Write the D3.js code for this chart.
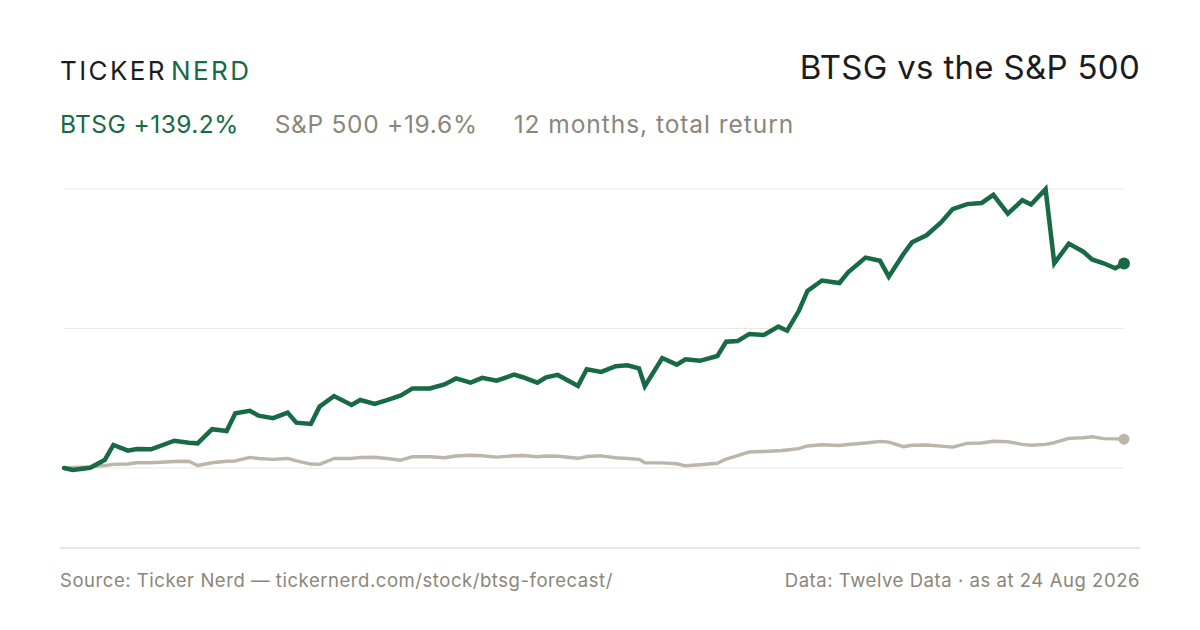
<!DOCTYPE html>
<html>
<head>
<meta charset="utf-8">
<script src="https://cdn.jsdelivr.net/npm/d3@7"></script>
<style>
  html, body { margin: 0; padding: 0; background: #ffffff; }
  svg { display: block; }
  text { font-family: Inter, "Noto Sans", sans-serif; }
</style>
</head>
<body>
<svg id="chart" width="1200" height="630"></svg>
<script>
// ---- data ----
const startDate = "2025-08-24";
const dayOffsets = [0,3,9,14,17,22,25,30,38,43,46,51,56,59,64,67,72,77,80,85,88,93,99,102,107,112,116,120,126,131,135,140,144,149,155,158,163,166,170,177,180,185,190,194,198,200,206,211,214,219,225,228,232,236,241,246,249,253,256,261,267,270,276,281,284,289,292,297,302,306,311,316,320,325,330,333,338,341,346,351,354,358,362,365];
const btsgReturn = [0,-1.4,0.2,5.4,15.7,11.8,12.9,12.7,18.6,17.2,16.8,26.4,25.2,37.3,39.0,35.6,33.9,37.7,30.9,30.0,41.8,49.0,42.9,46.3,43.6,46.8,49.4,54.2,54.2,56.9,61.0,58.1,61.4,59.5,63.6,61.8,58.1,61.8,63.4,55.9,67.2,65.4,69.3,70.0,67.9,55.7,74.9,70.4,74.0,73.0,76.3,86.0,86.5,91.3,90.6,96.3,93.5,106.9,120.6,127.7,126.0,133.2,143.3,141.1,130.3,145.6,153.7,158.5,167.2,176.3,179.7,180.5,186.0,173.2,182.4,179.4,189.9,139.4,152.8,147.3,142.0,139.4,136.0,139.2];
const spxReturn = [0,0.3,0.8,1.7,2.5,2.7,3.6,3.6,4.4,4.6,1.7,3.6,4.6,4.8,7.2,6.5,5.9,6.5,4.9,2.7,2.5,6.5,6.5,7.2,7.3,6.3,5.3,7.7,7.7,7.0,8.2,8.7,8.3,7.4,8.3,8.5,7.7,8.2,8.0,6.6,7.8,8.3,7.0,6.5,5.9,3.6,3.5,2.9,1.5,2.2,3.2,6.1,8.4,10.9,11.2,11.7,12.3,13.2,15.0,15.8,15.3,16.0,17.0,18.1,17.6,14.5,15.5,15.7,14.9,14.2,16.8,17.0,18.2,17.9,16.1,15.5,16.1,17.2,20.2,20.6,21.3,20.0,19.8,19.6];
const gridValues = [0, 95, 190];
const seriesNames = ["BTSG", "S&P 500"];
const titleText = "BTSG vs the S&P 500";
const subtitleNote = "12 months, total return";
const sourceText = "Source: Ticker Nerd \u2014 tickernerd.com/stock/btsg-forecast/";
const dataText = "Data: Twelve Data \u00b7 as at 24 Aug 2026";

// ---- styles ----
const GREEN = "#176a43";
const GREY_LINE = "#bcb5aa";
const GREY_TEXT = "#8b8678";
const DARK = "#1c1c1c";
const GRID = "#ebe7e1";

const svg = d3.select("#chart");
const start = d3.timeParse("%Y-%m-%d")(startDate);
const dates = dayOffsets.map(d => d3.timeDay.offset(start, d));
const rows = dates.map((d, i) => ({ date: d, btsg: btsgReturn[i], spx: spxReturn[i] }));

const x = d3.scaleTime().domain(d3.extent(dates)).range([64, 1124]);
const y = d3.scaleLinear().domain([0, 190]).range([468, 189]);

// header
svg.append("text").attr("x", 60).attr("y", 80)
  .attr("font-size", 26).attr("letter-spacing", 2.4).attr("fill", DARK)
  .text("TICKER")
  .append("tspan").attr("fill", GREEN).attr("dx", 4).text("NERD");

svg.append("text").attr("x", 1140).attr("y", 79).attr("text-anchor", "end")
  .attr("font-size", 33).attr("letter-spacing", 0.3).attr("fill", DARK).text(titleText);

const sub = svg.append("text").attr("x", 60).attr("y", 133)
  .attr("font-size", 24.5).attr("letter-spacing", 0.45);
const fmt = v => (v >= 0 ? "+" : "") + v.toFixed(1) + "%";
sub.append("tspan").attr("fill", GREEN)
  .text(seriesNames[0] + " " + fmt(btsgReturn[btsgReturn.length - 1]));
sub.append("tspan").attr("fill", GREY_TEXT).attr("dx", 36).attr("letter-spacing", 0.7)
  .text(seriesNames[1] + " " + fmt(spxReturn[spxReturn.length - 1]));
sub.append("tspan").attr("fill", GREY_TEXT).attr("dx", 36).attr("letter-spacing", 0.95).text(subtitleNote);

// gridlines
svg.append("g").selectAll("line").data(gridValues).join("line")
  .attr("x1", 64).attr("x2", 1124)
  .attr("y1", d => y(d)).attr("y2", d => y(d))
  .attr("stroke", GRID).attr("stroke-width", 1.2);

// bottom separator
svg.append("line").attr("x1", 60).attr("x2", 1140).attr("y1", 548).attr("y2", 548)
  .attr("stroke", "#e2ded6").attr("stroke-width", 1.5);

// lines
const lineSpx = d3.line().x(d => x(d.date)).y(d => y(d.spx));
const lineBtsg = d3.line().x(d => x(d.date)).y(d => y(d.btsg));

svg.append("path").datum(rows).attr("d", lineSpx)
  .attr("fill", "none").attr("stroke", GREY_LINE).attr("stroke-width", 3.4)
  .attr("stroke-linejoin", "round").attr("stroke-linecap", "round");
svg.append("path").datum(rows).attr("d", lineBtsg)
  .attr("fill", "none").attr("stroke", GREEN).attr("stroke-width", 4.5)
  .attr("stroke-linejoin", "miter").attr("stroke-linecap", "round");

const last = rows[rows.length - 1];
svg.append("circle").attr("cx", x(last.date)).attr("cy", y(last.spx)).attr("r", 5.5).attr("fill", GREY_LINE);
svg.append("circle").attr("cx", x(last.date)).attr("cy", y(last.btsg)).attr("r", 6).attr("fill", GREEN);

// footer
svg.append("text").attr("x", 60).attr("y", 587).attr("font-size", 18.5)
  .attr("letter-spacing", 0.55).attr("fill", GREY_TEXT).text(sourceText);
svg.append("text").attr("x", 1140).attr("y", 587).attr("text-anchor", "end")
  .attr("font-size", 18.5).attr("letter-spacing", 0.55).attr("fill", GREY_TEXT).text(dataText);
</script>
</body>
</html>
